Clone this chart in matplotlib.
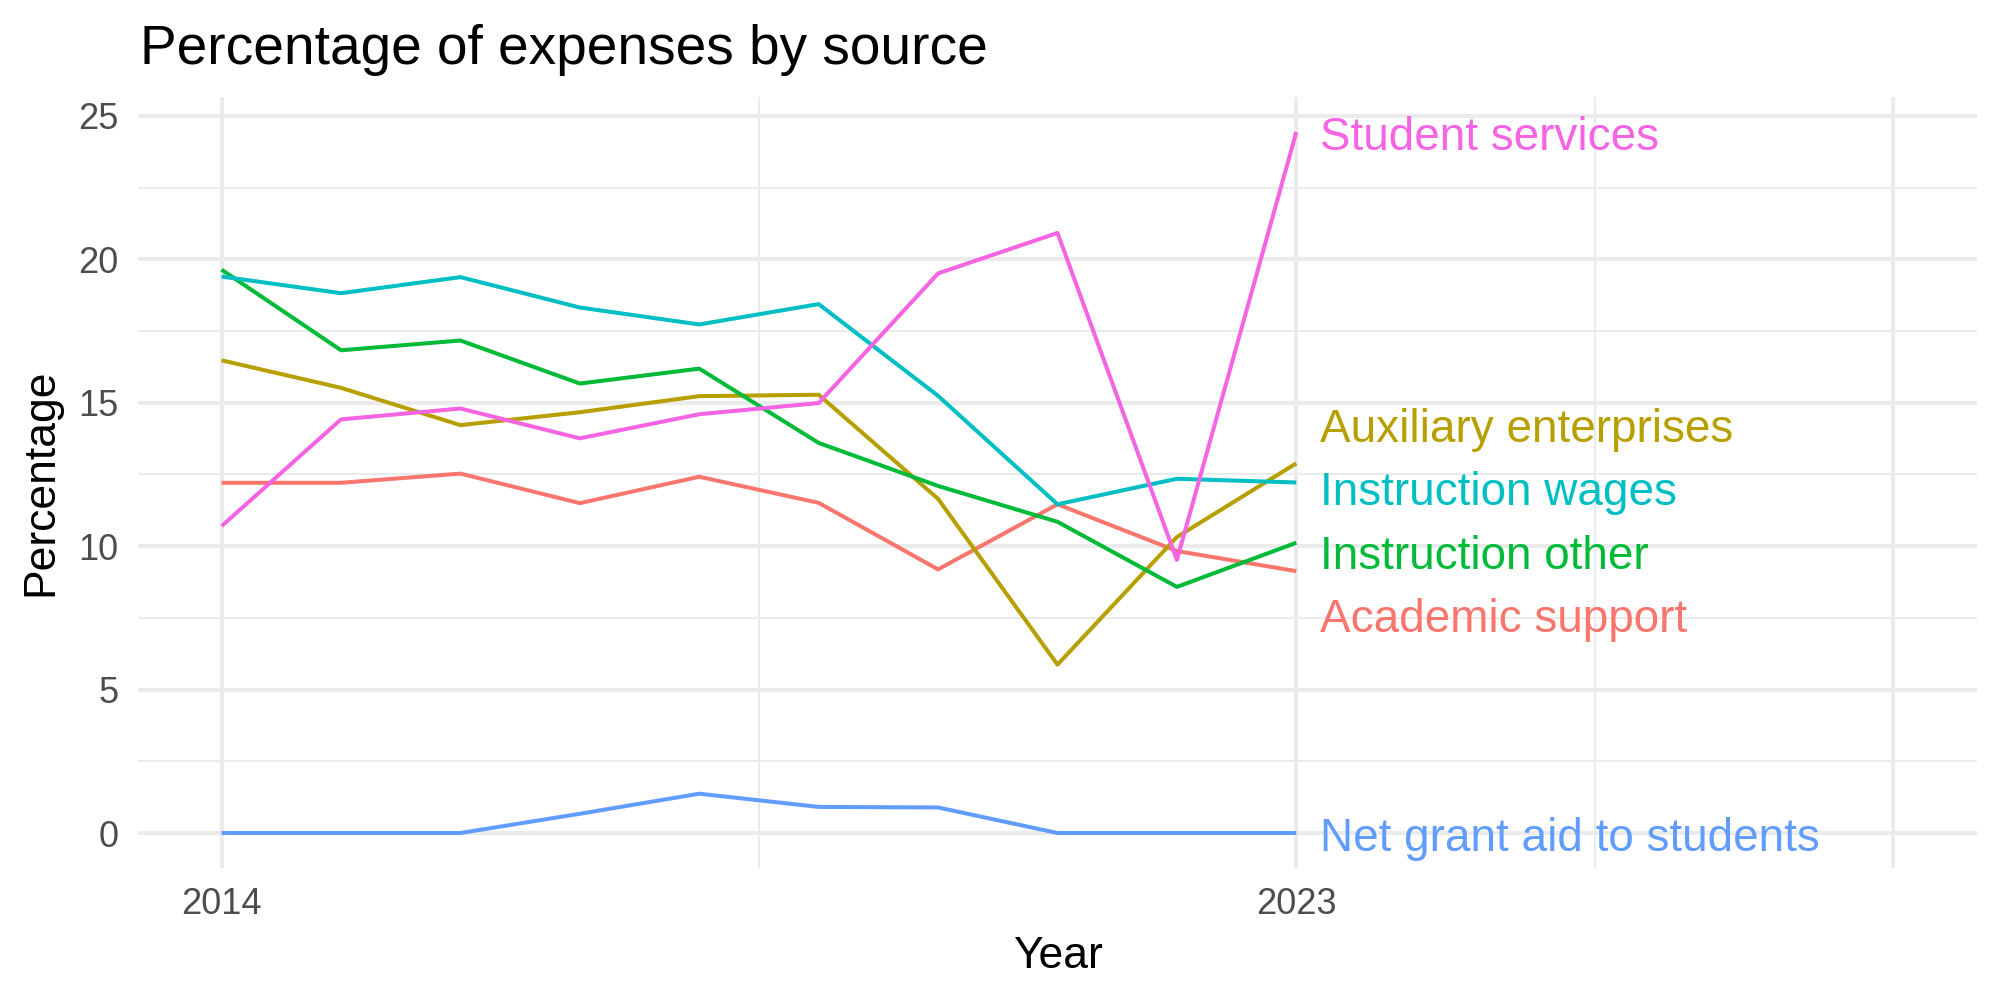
import numpy as np
import matplotlib
matplotlib.use("Agg")
from matplotlib import pyplot as plt

plt.rcParams['font.family'] = ['Liberation Sans', 'DejaVu Sans']

years = np.arange(2014, 2024)

academic_support = [12.21, 12.21, 12.53, 11.50, 12.42, 11.51, 9.19, 11.46, 9.83, 9.13]
auxiliary_enterprises = [16.48, 15.52, 14.22, 14.67, 15.23, 15.28, 11.65, 5.87, 10.32, 12.89]
instruction_other = [19.64, 16.83, 17.17, 15.67, 16.19, 13.60, 12.10, 10.85, 8.58, 10.12]
instruction_wages = [19.40, 18.82, 19.38, 18.32, 17.73, 18.44, 15.24, 11.46, 12.35, 12.22]
net_grant_aid = [0.0, 0.0, 0.0, 0.67, 1.37, 0.91, 0.89, 0.0, 0.0, 0.0]
student_services = [10.70, 14.42, 14.80, 13.76, 14.60, 14.99, 19.51, 20.92, 9.52, 24.44]

series = {
    "Academic support": academic_support,
    "Auxiliary enterprises": auxiliary_enterprises,
    "Instruction other": instruction_other,
    "Instruction wages": instruction_wages,
    "Net grant aid to students": net_grant_aid,
    "Student services": student_services,
}
colors = ["#F8766D", "#B79F00", "#00BA38", "#00BFC4", "#619CFF", "#F564E3"]


def repel_labels(ends, gap=2.2):
    # crude 1-d repel: group labels that are closer than gap, spread them around the group mean
    order = sorted(range(len(ends)), key=lambda i: ends[i])
    groups = [[order[0]]]
    for i in order[1:]:
        if ends[i] - ends[groups[-1][-1]] < gap:
            groups[-1].append(i)
        else:
            groups.append([i])
    pos = list(ends)
    for g in groups:
        m = np.mean([ends[i] for i in g])
        for k, i in enumerate(g):
            pos[i] = m + (k - (len(g) - 1) / 2) * gap
    return pos


fig = plt.figure(figsize=(20, 10), dpi=100)
ax = fig.add_axes([0.069, 0.132, 0.9195, 0.771])

names = list(series.keys())
ends = [series[n][-1] for n in names]
label_y = repel_labels(ends)
label_y = [y - 0.35 if 0 < y < 20 else y - 0.22 for y in label_y]

for name, col, ly in zip(names, colors, label_y):
    ax.plot(years, series[name], color=col, lw=2.9, solid_capstyle='butt', zorder=3)
    ax.text(years[-1] + 0.2, ly, name, color=col, fontsize=33, va='center', ha='left', zorder=4)

ax.set_xlim(2013.3, 2028.7)
ax.set_ylim(-1.22, 25.66)
ax.set_xticks([2014, 2023, 2028])
ax.set_xticklabels(["2014", "2023", ""])
ax.set_xticks([2018.5, 2025.5], minor=True)
ax.set_yticks([0, 5, 10, 15, 20, 25])
ax.set_yticks(np.arange(2.5, 25, 5), minor=True)

ax.grid(which='major', color='#EBEBEB', lw=2.9)
ax.grid(which='minor', color='#EBEBEB', lw=1.5)
ax.set_axisbelow(True)
for s in ax.spines.values():
    s.set_visible(False)
ax.tick_params(which='both', length=0)
ax.tick_params(axis='x', labelsize=26, labelcolor='#4D4D4D', pad=14)
ax.tick_params(axis='y', labelsize=26, labelcolor='#4D4D4D', pad=14)

ax.set_xlabel("Year", fontsize=32, labelpad=10)
ax.set_ylabel("Percentage", fontsize=32, labelpad=12)
fig.text(0.07, 0.936, "Percentage of expenses by source", fontsize=39.6, ha='left', va='baseline')

fig.savefig("out.png", dpi=100)
